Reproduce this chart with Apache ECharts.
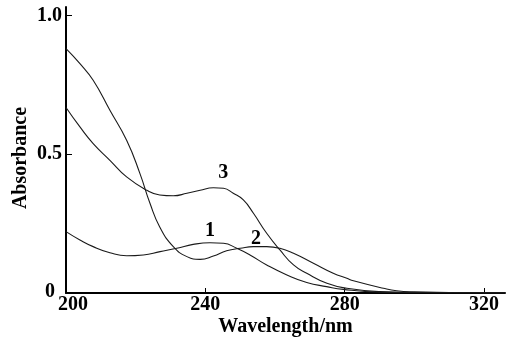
<!DOCTYPE html>
<html>
<head>
<meta charset="utf-8">
<script src="https://cdn.jsdelivr.net/npm/echarts@6/dist/echarts.min.js"></script>
<style>
  html, body { margin: 0; padding: 0; background: #fff; }
  #chart { width: 514px; height: 337px; }
</style>
</head>
<body>
<div id="chart"></div>
<script>
// wavelength (nm) / absorbance
const wl1 = [200, 204.0, 207.8, 212.6, 217.4, 222.2, 227.0, 231.8, 236.5, 241.3, 245.2, 249.0, 252.8, 257.6, 263.4, 269.1, 274.8, 279.6, 290, 300, 326];
const abs1 = [0.221, 0.191, 0.167, 0.145, 0.134, 0.137, 0.149, 0.161, 0.175, 0.181, 0.179, 0.161, 0.137, 0.101, 0.065, 0.038, 0.023, 0.013, 0.003, 0.001, 0.0];

const wl2 = [200, 204.0, 207.8, 212.6, 217.4, 221.2, 224.1, 226.9, 230.8, 234.7, 238.5, 242.3, 246.1, 250.0, 253.8, 257.6, 261.4, 265.3, 271.0, 276.7, 280.6, 282.5, 291.1, 294.9, 300, 310, 326];
const abs2 = [0.880, 0.826, 0.766, 0.658, 0.550, 0.431, 0.323, 0.238, 0.167, 0.131, 0.121, 0.133, 0.152, 0.161, 0.167, 0.167, 0.161, 0.143, 0.107, 0.071, 0.053, 0.044, 0.017, 0.008, 0.004, 0.002, 0.0];

const wl3 = [200, 204.0, 207.8, 212.6, 217.4, 223.2, 226.9, 230.8, 234.7, 238.5, 242.3, 245.2, 248.0, 250.9, 253.8, 257.6, 261.4, 265.3, 269.1, 274.9, 280.6, 290, 300, 326];
const abs3 = [0.668, 0.598, 0.538, 0.478, 0.418, 0.370, 0.353, 0.350, 0.359, 0.370, 0.379, 0.377, 0.359, 0.335, 0.287, 0.215, 0.155, 0.101, 0.071, 0.035, 0.017, 0.005, 0.002, 0.0];

// curve numbers placed next to each trace
const curveNames = ["1", "2", "3"];
const curveLabelX = [241.3, 254.5, 245.1];
const curveLabelY = [0.223, 0.194, 0.432];

const xTicks = [200, 240, 280, 320];
const yTicks = [0, 0.5, 1.0];

const FONT = "Liberation Serif";

function pairs(xs, ys) {
  return xs.map((x, i) => [x, ys[i]]);
}

function curve(name, xs, ys, idx) {
  return {
    type: "line",
    name: name,
    data: pairs(xs, ys),
    smooth: 0.5,
    symbol: "none",
    lineStyle: { color: "#1a1a1a", width: 1.1 },
    markPoint: {
      symbol: "circle",
      symbolSize: 1,
      itemStyle: { color: "rgba(0,0,0,0)" },
      data: [{ coord: [curveLabelX[idx], curveLabelY[idx]] }],
      label: {
        show: true,
        position: "inside",
        formatter: curveNames[idx],
        color: "#000",
        fontFamily: FONT,
        fontWeight: "bold",
        fontSize: 20,
      },
    },
  };
}

const chart = echarts.init(document.getElementById("chart"));
chart.setOption({
  animation: false,
  grid: { left: 66, right: 9, top: 7, bottom: 44, outerBoundsMode: "none" },
  xAxis: {
    type: "value",
    min: 200,
    max: 326,
    name: "Wavelength/nm",
    nameLocation: "middle",
    nameGap: 24,
    nameMoveOverlap: false,
    nameTextStyle: { color: "#000", fontFamily: FONT, fontWeight: "bold", fontSize: 20 },
    splitLine: { show: false },
    axisLine: { lineStyle: { color: "#000", width: 2 } },
    axisTick: { show: true, inside: true, length: 5, lineStyle: { color: "#000", width: 1 }, customValues: xTicks.slice(1) },
    axisLabel: {
      color: "#000", fontFamily: FONT, fontWeight: "bold", fontSize: 20, margin: 2,
      customValues: xTicks,
      formatter: (v) => (v === 200 ? "{first|" + v + "}" : String(v)),
      rich: { first: { fontFamily: FONT, fontWeight: "bold", fontSize: 20, color: "#000", padding: [0, 0, 0, 14] } },
    },
  },
  yAxis: {
    type: "value",
    min: 0,
    max: 1.03,
    name: "Absorbance",
    nameLocation: "middle",
    nameGap: 35,
    nameMoveOverlap: false,
    nameTextStyle: { color: "#000", fontFamily: FONT, fontWeight: "bold", fontSize: 20, padding: [0, 16, 0, 0] },
    splitLine: { show: false },
    axisLine: { show: true, lineStyle: { color: "#000", width: 2 } },
    axisTick: { show: true, inside: true, length: 6, lineStyle: { color: "#000", width: 1 }, customValues: yTicks.slice(1) },
    axisLabel: {
      color: "#000", fontFamily: FONT, fontWeight: "bold", fontSize: 20, margin: 4,
      customValues: yTicks,
      formatter: (v) => (v === 0 ? "{zero|0}" : v.toFixed(1)),
      rich: { zero: { fontFamily: FONT, fontWeight: "bold", fontSize: 20, color: "#000", padding: [0, 7, 2, 0] } },
    },
  },
  series: [
    curve("1", wl1, abs1, 0),
    curve("2", wl2, abs2, 1),
    curve("3", wl3, abs3, 2),
  ],
});
</script>
</body>
</html>
